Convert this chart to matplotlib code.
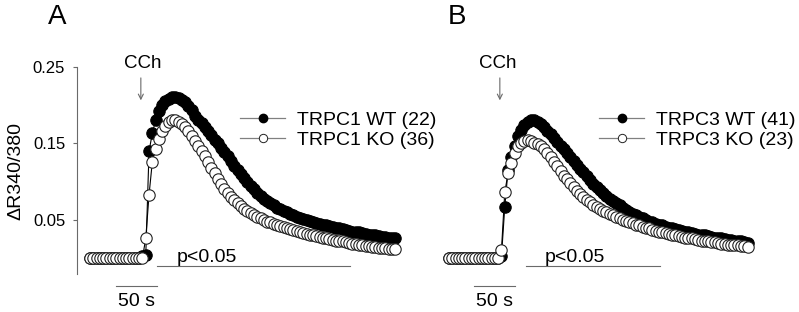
import numpy as np
import matplotlib
matplotlib.use("Agg")
import matplotlib.pyplot as plt
from matplotlib.lines import Line2D

plt.rcParams['font.family'] = ['Liberation Sans', 'DejaVu Sans']

# sampling interval (s) and stimulus time
dt = 4.0
t_cch = 62.0

# panel A: TRPC1
trpc1_wt = [0.0] * 16 + [
    0.003, 0.004, 0.140, 0.163, 0.180, 0.192, 0.200, 0.205, 0.208, 0.210,
    0.210, 0.209, 0.207, 0.204, 0.199, 0.193, 0.186, 0.181, 0.176, 0.171,
    0.166, 0.161, 0.155, 0.150, 0.144, 0.139, 0.133, 0.127, 0.121, 0.115,
    0.110, 0.105, 0.100, 0.095, 0.090, 0.085, 0.081, 0.078, 0.075, 0.072,
    0.069, 0.066, 0.064, 0.062, 0.060, 0.058, 0.056, 0.054, 0.053, 0.051,
    0.050, 0.049, 0.047, 0.046, 0.045, 0.044, 0.043, 0.042, 0.041, 0.040,
    0.039, 0.038, 0.037, 0.036, 0.035, 0.034, 0.034, 0.033, 0.032, 0.031,
    0.030, 0.030, 0.029, 0.028, 0.028, 0.027, 0.026, 0.026]
trpc1_ko = [0.0] * 16 + [
    0.001, 0.026, 0.083, 0.126, 0.143, 0.156, 0.166, 0.173, 0.178, 0.180,
    0.180, 0.178, 0.175, 0.171, 0.166, 0.160, 0.153, 0.146, 0.140, 0.134,
    0.126, 0.118, 0.111, 0.104, 0.097, 0.091, 0.085, 0.080, 0.076, 0.072,
    0.068, 0.065, 0.062, 0.059, 0.057, 0.054, 0.052, 0.050, 0.048, 0.047,
    0.045, 0.044, 0.042, 0.041, 0.039, 0.038, 0.037, 0.036, 0.034, 0.033,
    0.032, 0.031, 0.030, 0.029, 0.028, 0.027, 0.026, 0.025, 0.024, 0.023,
    0.022, 0.022, 0.021, 0.020, 0.019, 0.019, 0.018, 0.017, 0.016, 0.016,
    0.015, 0.015, 0.014, 0.013, 0.013, 0.012, 0.012, 0.012]

# panel B: TRPC3
trpc3_wt = [0.0] * 16 + [
    0.003, 0.067, 0.115, 0.132, 0.146, 0.159, 0.168, 0.174, 0.178, 0.180,
    0.180, 0.178, 0.175, 0.171, 0.166, 0.162, 0.157, 0.152, 0.147, 0.142,
    0.137, 0.132, 0.127, 0.122, 0.117, 0.112, 0.107, 0.102, 0.097, 0.093,
    0.089, 0.085, 0.081, 0.078, 0.075, 0.072, 0.069, 0.066, 0.063, 0.061,
    0.058, 0.056, 0.054, 0.052, 0.050, 0.048, 0.047, 0.045, 0.044, 0.043,
    0.041, 0.040, 0.039, 0.038, 0.037, 0.036, 0.035, 0.034, 0.033, 0.032,
    0.031, 0.031, 0.030, 0.029, 0.028, 0.027, 0.027, 0.026, 0.025, 0.024,
    0.024, 0.023, 0.022, 0.022, 0.021, 0.020]
trpc3_ko = [0.0] * 16 + [
    0.011, 0.086, 0.111, 0.124, 0.137, 0.146, 0.151, 0.153, 0.154, 0.153,
    0.151, 0.149, 0.146, 0.142, 0.137, 0.132, 0.126, 0.120, 0.114, 0.108,
    0.103, 0.098, 0.093, 0.088, 0.084, 0.080, 0.076, 0.073, 0.070, 0.067,
    0.065, 0.062, 0.060, 0.058, 0.056, 0.054, 0.052, 0.050, 0.049, 0.047,
    0.046, 0.044, 0.043, 0.041, 0.040, 0.039, 0.037, 0.036, 0.035, 0.034,
    0.033, 0.032, 0.031, 0.030, 0.029, 0.028, 0.027, 0.026, 0.026, 0.025,
    0.024, 0.023, 0.023, 0.022, 0.021, 0.021, 0.020, 0.019, 0.019, 0.018,
    0.018, 0.017, 0.017, 0.016, 0.016, 0.015]

panels = [
    ("A", trpc1_wt, trpc1_ko, ["TRPC1 WT (22)", "TRPC1 KO (36)"], (82, 317)),
    ("B", trpc3_wt, trpc3_ko, ["TRPC3 WT (41)", "TRPC3 KO (23)"], (94, 257)),
]
p_text_x = [143, 153]
bar_x = [(32, 82), (31, 81)]

W, H = 799, 312
fig = plt.figure(figsize=(W / 100, H / 100), dpi=100)

gray = '#6a6a6a'
for k, (letter, wt, ko, labels, p_span) in enumerate(panels):
    left_px = 77 if k == 0 else 436
    ax = fig.add_axes([left_px / W, (H - 274) / H, 338 / W, (274 - 66.7) / H])
    ax.set_xlim(-15.85, 396.3)
    ax.set_ylim(-0.0204, 0.25)

    t_wt = np.arange(len(wt)) * dt
    t_ko = np.arange(len(ko)) * dt
    ax.plot(t_wt, wt, '-o', color='black', lw=0.8, ms=8.2, mfc='black',
            mec='black', mew=0.8, clip_on=False)
    ax.plot(t_ko, ko, '-o', color='black', lw=0.8, ms=8.2, mfc='white',
            mec='#222222', mew=0.8, clip_on=False)

    for s in ['top', 'right', 'bottom']:
        ax.spines[s].set_visible(False)
    ax.set_xticks([])
    if k == 0:
        ax.spines['left'].set_color(gray)
        ax.spines['left'].set_linewidth(0.8)
        ax.set_yticks([0.05, 0.15, 0.25])
        ax.set_yticklabels(['0.05', '0.15', '0.25'])
        ax.tick_params(axis='y', direction='out', length=3, width=0.8,
                       color=gray, labelsize=12, pad=5.5)
    else:
        ax.spines['left'].set_visible(False)
        ax.set_yticks([])

    # CCh arrow
    ax.annotate('', xy=(t_cch, 0.2025), xytext=(t_cch, 0.239),
                arrowprops=dict(arrowstyle='->', color=gray, lw=0.8,
                                mutation_scale=9), annotation_clip=False)
    ax.text(t_cch + (2 if k == 0 else -3), 0.248, 'CCh', fontsize=13.5,
            ha='center', va='baseline')

    # significance line
    ax.plot(p_span, [-0.0105, -0.0105], color=gray, lw=0.8, clip_on=False)
    ax.text(p_text_x[k], -0.0048, 'p<0.05', fontsize=14, ha='center',
            va='baseline')

    # 50 s scale bar
    ax.plot(bar_x[k], [-0.036, -0.036], color=gray, lw=0.8, clip_on=False)
    ax.text(np.mean(bar_x[k]), -0.0621, '50 s', fontsize=14, ha='center',
            va='baseline', clip_on=False)

    handles = [
        Line2D([], [], color='#808080', lw=0.9, marker='o', ms=6,
               mfc='black', mec='black'),
        Line2D([], [], color='#808080', lw=0.9, marker='o', ms=6,
               mfc='white', mec='#222222', mew=0.7),
    ]
    ax.legend(handles, labels, loc='center left', frameon=False,
              bbox_to_anchor=(182.5, 0.1673), bbox_transform=ax.transData,
              fontsize=14, handlelength=2.35, handletextpad=0.6,
              labelspacing=0.15, borderpad=0, borderaxespad=0)

    fig.text((57 if k == 0 else 457) / W, 1 - 17 / H, letter, fontsize=20,
             ha='center', va='center')

fig.text(15.5 / W, 1 - 171 / H, 'ΔR340/380', fontsize=14, rotation=90,
         ha='center', va='center')

fig.savefig('out.png', dpi=100)
